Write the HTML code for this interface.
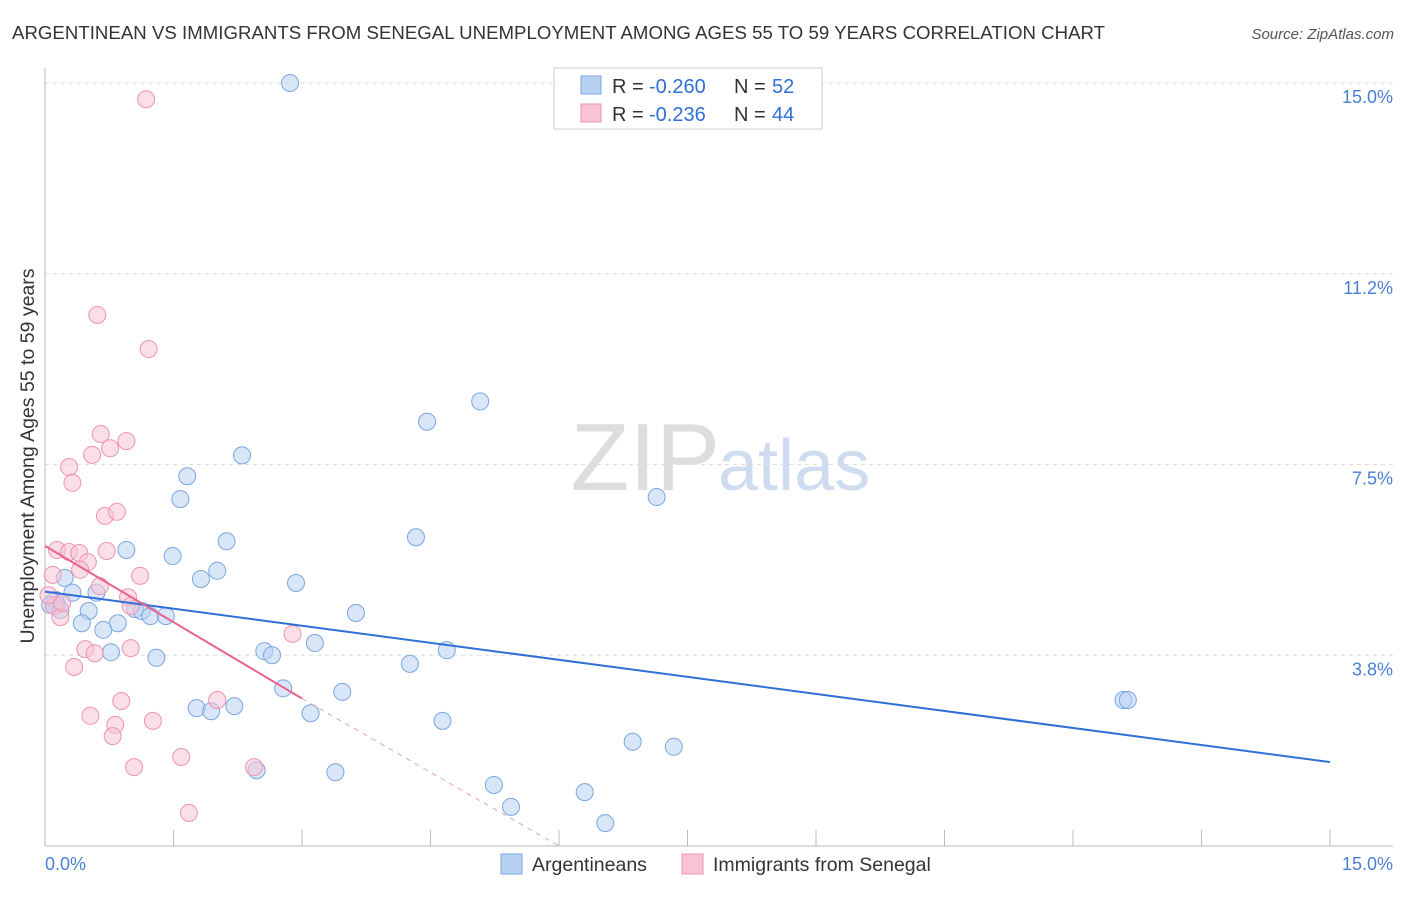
<!DOCTYPE html>
<html><head><meta charset="utf-8"><style>
body{margin:0;background:#fff;font-family:"Liberation Sans",sans-serif}
svg text{font-family:"Liberation Sans",sans-serif}
</style></head><body>
<svg id="c" width="1406" height="892">
<text x="12" y="39" font-size="18.6" fill="#333" textLength="1093">ARGENTINEAN VS IMMIGRANTS FROM SENEGAL UNEMPLOYMENT AMONG AGES 55 TO 59 YEARS CORRELATION CHART</text>
<text x="1394" y="39" font-size="15" fill="#555" font-style="italic" text-anchor="end">Source: ZipAtlas.com</text>
<text x="720" y="490" font-size="96" fill="#ddd" text-anchor="end" font-family="Liberation Serif">ZIP</text>
<text x="718" y="490" font-size="72" fill="#cfdcef">atlas</text>
<text transform="translate(34,456) rotate(-90)" font-size="19.5" fill="#333" text-anchor="middle">Unemployment Among Ages 55 to 59 years</text>
<g id="grid"></g><g id="marks"></g>
<g>
<rect x="554" y="68" width="268" height="61" fill="#fff" stroke="#ccc"/>
<rect x="581" y="76" width="20" height="18" fill="#b8d1f2" stroke="#7aa6e0"/>
<rect x="581" y="104" width="20" height="18" fill="#f8c4d5" stroke="#ee93b1"/>
<text x="612" y="93" font-size="20" fill="#333">R =</text>
<text x="649" y="93" font-size="20" fill="#2f6fd6">-0.260</text>
<text x="734" y="93" font-size="20" fill="#333">N =</text>
<text x="772" y="93" font-size="20" fill="#2f6fd6">52</text>
<text x="612" y="121" font-size="20" fill="#333">R =</text>
<text x="649" y="121" font-size="20" fill="#2f6fd6">-0.236</text>
<text x="734" y="121" font-size="20" fill="#333">N =</text>
<text x="772" y="121" font-size="20" fill="#2f6fd6">44</text>
</g>
<g>
<rect x="501" y="854" width="21" height="20" fill="#b8d1f2" stroke="#7aa6e0"/>
<text x="532" y="871" font-size="19.5" fill="#333">Argentineans</text>
<rect x="682" y="854" width="21" height="20" fill="#f8c4d5" stroke="#ee93b1"/>
<text x="713" y="871" font-size="19.5" fill="#333">Immigrants from Senegal</text>
</g>
</svg>
<script>
const yTicks=[15.0,11.25,7.5,3.75];
const yTickLabels=["15.0%","11.2%","7.5%","3.8%"];
const blueX=[2.86,5.08,4.46,2.30,7.14,1.66,1.58,4.33,2.12,0.95,1.49,2.01,1.82,2.93,0.23,0.32,0.60,0.12,0.14,0.06,0.51,1.05,1.13,1.23,1.41,0.43,0.85,0.68,3.63,3.15,0.77,1.30,2.56,2.65,4.69,4.26,2.78,3.47,1.77,1.94,2.21,3.10,4.64,12.59,12.64,6.86,7.34,3.39,2.47,5.24,5.44,6.30,6.54,0.18];
const blueY=[15.0,8.74,8.34,7.68,6.86,7.27,6.82,6.07,5.99,5.82,5.70,5.41,5.25,5.17,5.27,4.98,4.98,4.84,4.74,4.74,4.62,4.66,4.62,4.52,4.52,4.38,4.38,4.25,4.58,3.99,3.81,3.70,3.83,3.75,3.85,3.58,3.10,3.03,2.71,2.65,2.75,2.61,2.46,2.87,2.87,2.05,1.95,1.45,1.49,1.20,0.77,1.06,0.45,4.64];
const pinkX=[1.18,0.61,1.21,0.65,0.95,0.76,0.55,0.28,0.32,0.70,0.84,0.14,0.28,0.40,0.72,0.50,0.41,1.11,0.09,0.64,0.97,1.00,0.11,0.18,2.89,0.47,0.58,1.00,0.34,0.89,2.01,0.53,1.26,0.82,0.79,1.59,1.04,2.44,1.68,0.20,0.04];
const pinkY=[14.68,10.44,9.77,8.10,7.96,7.82,7.69,7.45,7.14,6.49,6.57,5.82,5.78,5.76,5.80,5.58,5.43,5.31,5.33,5.11,4.89,4.72,4.72,4.50,4.17,3.87,3.79,3.89,3.52,2.85,2.87,2.56,2.46,2.38,2.16,1.75,1.55,1.55,0.65,4.78,4.93];
const blueTrend=[[0,5.0],[15,1.65]];
const pinkTrend=[[0,5.9],[3.0,2.9],[6.0,0]];
const xs=v=>45+v/15*1285, ys=v=>846-v/15*763;
const NS='http://www.w3.org/2000/svg';
const g=document.getElementById('grid'), m=document.getElementById('marks');
function mk(t,a,p){const e=document.createElementNS(NS,t);for(const k in a)e.setAttribute(k,a[k]);p.appendChild(e);return e;}
yTicks.forEach((t,i)=>{
 const l=mk('line',{x1:45,x2:1393,y1:ys(t),y2:ys(t),stroke:'#ddd','stroke-dasharray':'4,4'},g);
 
 
 const tx=mk('text',{x:1393,y:ys(t)+20,'font-size':18,fill:'#4a7fd4','text-anchor':'end'},g);
 tx.textContent=yTickLabels[i];
 
 
});
const ax=mk('line',{x1:45,x2:1393,y1:846,y2:846,stroke:'#bbb'},g);


const ay=mk('line',{x1:45,x2:45,y1:68,y2:846,stroke:'#bbb'},g);


for(let i=1;i<=10;i++){const t=mk('line',{x1:xs(i*1.5),x2:xs(i*1.5),y1:830,y2:846,stroke:'#bbb'},g);
 
 }
[[0,'0.0%','start',45],[15,'15.0%','end',1393]].forEach(d=>{const t=mk('text',{x:d[3],y:870,'font-size':18,fill:'#4a7fd4','text-anchor':d[2]},g);t.textContent=d[1];
 
 });
function pts(X,Y,f,s,n){X.forEach((x,i)=>{const c=mk('circle',{cx:xs(x),cy:ys(Y[i]),r:8.5,fill:f,'fill-opacity':0.55,stroke:s,'stroke-width':1},m);
 
 });}
pts(blueX,blueY,'#b8d1f2','#7aa6e0','argentinean-point');
pts(pinkX,pinkY,'#f8c4d5','#ee93b1','senegal-point');
const bl=mk('line',{x1:xs(blueTrend[0][0]),y1:ys(blueTrend[0][1]),x2:xs(blueTrend[1][0]),y2:ys(blueTrend[1][1]),stroke:'#2f6fd6','stroke-width':2},m);


const pl=mk('line',{x1:xs(pinkTrend[0][0]),y1:ys(pinkTrend[0][1]),x2:xs(pinkTrend[1][0]),y2:ys(pinkTrend[1][1]),stroke:'#e8628f','stroke-width':2},m);


const pd=mk('line',{x1:xs(pinkTrend[1][0]),y1:ys(pinkTrend[1][1]),x2:xs(pinkTrend[2][0]),y2:ys(pinkTrend[2][1]),stroke:'#e8a0b8','stroke-width':1,'stroke-dasharray':'5,5'},m);


</script>
</body></html>
